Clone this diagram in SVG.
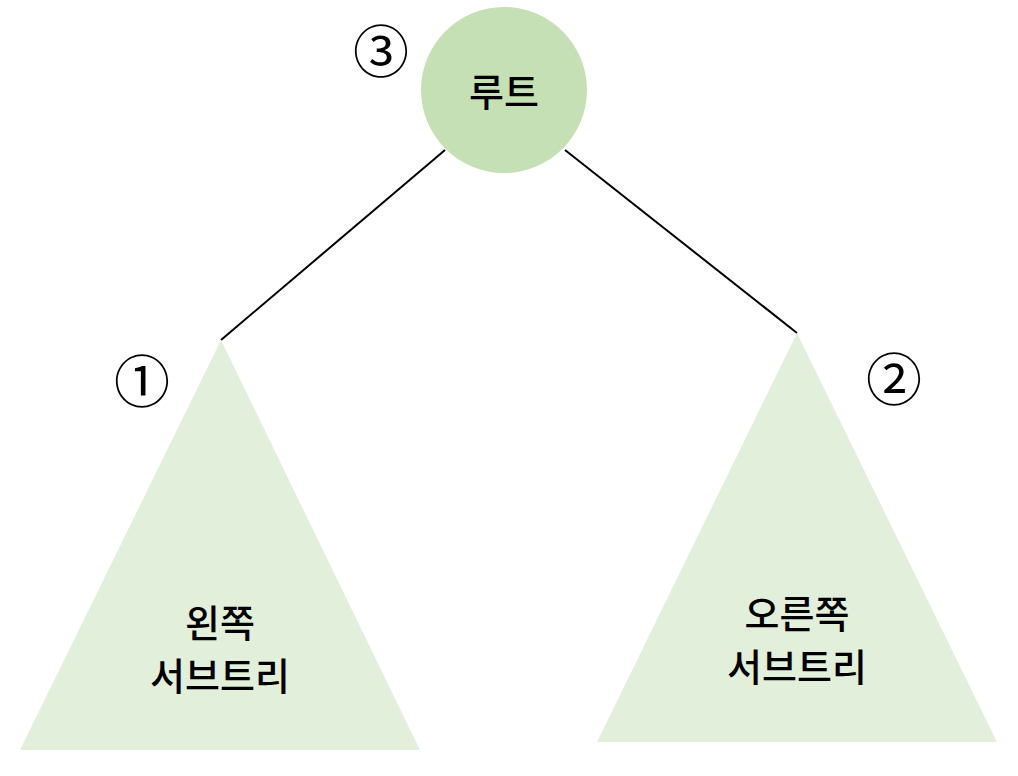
<svg xmlns="http://www.w3.org/2000/svg" width="1018" height="776" viewBox="0 0 1018 776">
<style>
.t{font-family:"Noto Sans CJK KR","Noto Sans",sans-serif;font-size:38px;font-weight:500;fill:#000;text-anchor:middle}
.n{font-family:"Noto Sans CJK KR","Noto Sans",sans-serif;font-size:56px;fill:#000;text-anchor:middle;dominant-baseline:central}
.tri{fill:#E2EFDA}
</style>
<rect width="1018" height="776" fill="#fff"/>
<g id="connectors" stroke="#000" stroke-width="2" fill="none">
<line x1="445" y1="150" x2="221" y2="340"/>
<line x1="565" y1="150" x2="797" y2="333"/>
</g>
<g id="root">
<circle cx="504" cy="90" r="83" fill="#C5E0B4"/>
<text class="t" x="504" y="106">루트</text>
</g>
<g id="left">
<polygon class="tri" points="221,340 420,750 20,750"/>
<text class="t" x="220" y="637">왼쪽</text>
<text class="t" x="220" y="690">서브트리</text>
</g>
<g id="right">
<polygon class="tri" points="797,333 997,742 597,742"/>
<text class="t" x="797" y="628">오른쪽</text>
<text class="t" x="797" y="681">서브트리</text>
</g>
<g id="labels">
<text class="n" x="381" y="47">③</text>
<text class="n" x="142" y="377">①</text>
<text class="n" x="894" y="375">②</text>
</g>
</svg>
